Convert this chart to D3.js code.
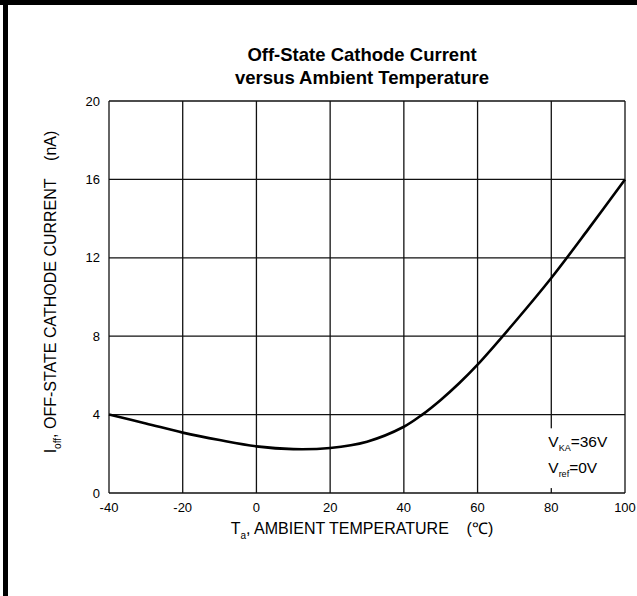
<!DOCTYPE html>
<html>
<head>
<meta charset="utf-8">
<script src="https://cdn.jsdelivr.net/npm/d3@7"></script>
<style>
body { margin: 0; background: #fff; }
text { font-family: "Liberation Sans", Arial, sans-serif; fill: #000; }
</style>
</head>
<body>
<svg id="chart" width="637" height="596"></svg>
<script>
// curve
let temps = [-40, -30, -20, -10, 0, 10, 20, 30, 40, 45, 50, 55, 60, 70, 80, 90, 100];
let current = [4.0, 3.55, 3.08, 2.7, 2.38, 2.24, 2.3, 2.62, 3.38, 4.0, 4.75, 5.6, 6.55, 8.7, 10.97, 13.45, 16.0];
let xTicks = [-40, -20, 0, 20, 40, 60, 80, 100];
let yTicks = [0, 4, 8, 12, 16, 20];

let svg = d3.select("#chart");

// frame (only top and left edges show in the picture)
svg.append("rect").attr("x", 0).attr("y", 0).attr("width", 637).attr("height", 5).attr("fill", "#000");
svg.append("rect").attr("x", 3).attr("y", 0).attr("width", 5).attr("height", 596).attr("fill", "#000");

var margin = { top: 101, left: 109 },
    width = 625 - 109,
    height = 493 - 101;

var g = svg.append("g").attr("transform", "translate(" + margin.left + "," + margin.top + ")");

var x = d3.scaleLinear().domain([-40, 100]).range([0, width]);
var y = d3.scaleLinear().domain([0, 20]).range([height, 0]);

// grid
g.selectAll(".vgrid").data(xTicks).enter().append("line")
  .attr("x1", d => x(d)).attr("x2", d => x(d))
  .attr("y1", 0).attr("y2", height)
  .attr("stroke", "#111").attr("stroke-width", 1.3);
g.selectAll(".hgrid").data(yTicks).enter().append("line")
  .attr("x1", 0).attr("x2", width)
  .attr("y1", d => y(d)).attr("y2", d => y(d))
  .attr("stroke", "#111").attr("stroke-width", 1.3);

// white box behind the condition note
g.append("rect")
  .attr("x", x(80) - 6).attr("y", y(3.3)).attr("width", 62).attr("height", y(0.25) - y(3.3))
  .attr("fill", "#fff");

// tick labels
g.selectAll(".xl").data(xTicks).enter().append("text")
  .attr("x", d => x(d)).attr("y", height + 19)
  .attr("text-anchor", "middle").attr("font-size", 13)
  .text(d => d);
g.selectAll(".yl").data(yTicks).enter().append("text")
  .attr("x", -9).attr("y", d => y(d) + 4.5)
  .attr("text-anchor", "end").attr("font-size", 13)
  .text(d => d);

// curve
var line = d3.line()
  .curve(d3.curveCatmullRom.alpha(0.5))
  .x((d, i) => x(temps[i]))
  .y(d => y(d));
g.append("path")
  .datum(current)
  .attr("fill", "none")
  .attr("stroke", "#000")
  .attr("stroke-width", 2.6)
  .attr("d", line);

// condition note
var note = g.append("text").attr("x", x(80) - 3).attr("y", y(2.35)).attr("font-size", 15.5);
note.append("tspan").text("V");
note.append("tspan").attr("font-size", 9).attr("dy", 4).text("KA");
note.append("tspan").attr("dy", -4).text("=36V");
var note2 = g.append("text").attr("x", x(80) - 3).attr("y", y(1.0)).attr("font-size", 15.5);
note2.append("tspan").text("V");
note2.append("tspan").attr("font-size", 9).attr("dy", 4).text("ref");
note2.append("tspan").attr("dy", -4).text("=0V");

// title
svg.append("text").attr("x", 362).attr("y", 61).attr("text-anchor", "middle")
  .attr("font-size", 18.5).attr("font-weight", "bold").text("Off-State Cathode Current");
svg.append("text").attr("x", 362).attr("y", 84).attr("text-anchor", "middle")
  .attr("font-size", 18.5).attr("font-weight", "bold").text("versus Ambient Temperature");

// x axis title
var xt = svg.append("text").attr("x", 362).attr("y", 534).attr("text-anchor", "middle")
  .attr("font-size", 16).attr("xml:space", "preserve");
xt.append("tspan").text("T");
xt.append("tspan").attr("font-size", 10).attr("dy", 5).text("a");
xt.append("tspan").attr("dy", -5).text(", AMBIENT TEMPERATURE    (℃)");

// y axis title
var yt = svg.append("text").attr("transform", "translate(56,292) rotate(-90)")
  .attr("text-anchor", "middle").attr("font-size", 16).attr("xml:space", "preserve");
yt.append("tspan").text("I");
yt.append("tspan").attr("font-size", 10).attr("dy", 5).text("off");
yt.append("tspan").attr("dy", -5).text(", OFF-STATE CATHODE CURRENT    (nA)");
</script>
</body>
</html>
